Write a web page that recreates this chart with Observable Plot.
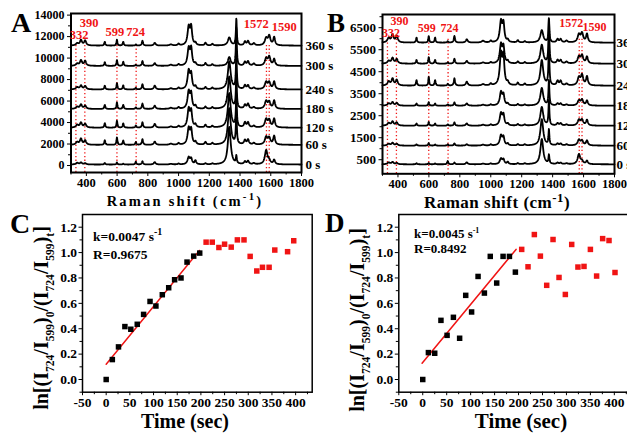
<!DOCTYPE html>
<html><head><meta charset="utf-8">
<script src="https://cdn.jsdelivr.net/npm/d3@7"></script>
<script src="https://cdn.jsdelivr.net/npm/@observablehq/plot@0.6"></script>
<style>
body{margin:0;background:#fff;}
#fig{position:relative;width:627px;height:434px;overflow:hidden;background:#fff;}
#fig svg{position:absolute;overflow:visible;}
</style></head><body><div id="fig"></div>
<script>
// ---------- DATA ----------
const timeLabels = ["0 s","60 s","120 s","180 s","240 s","300 s","360 s"];
const markedShifts = [332, 390, 599, 724, 1572, 1590];
// Raman peaks (centre, half width)
const peakCenters = [340,365,392,520,599,640,722,765,845,950,1000,1066,1082,1110,1175,1220,1330,1376,1432,1452,1490,1570,1590,1622];
const peakWidths  = [10,8,8,4,3.5,4,4,4.5,7,10,6,9,7,6,6,6,11,3.5,7,7,8,10,9,7];
// Panel A: baselines and peak heights per trace (0 s ... 360 s)
const baselinesA = [90, 1920, 3520, 5260, 7080, 9270, 11160];
const heightsA = [
  [150,180,120,150,200,80,260,300,220,60,80,650,500,350,100,80,3500,700,250,300,100,1300,300,400],
  [250,550,400,430,700,400,260,530,300,100,150,1500,1300,250,250,150,3400,3200,400,450,150,700,600,800],
  [250,450,350,420,650,400,200,500,350,100,150,1700,1400,250,250,150,3200,3100,450,450,150,750,650,800],
  [200,400,300,380,620,380,150,500,300,100,150,1600,1300,250,200,150,3000,3200,350,450,150,700,600,750],
  [200,350,300,350,600,380,150,480,350,100,150,1700,1300,250,200,150,2600,3400,350,350,150,650,600,700],
  [200,500,450,350,550,380,100,450,250,100,150,1600,1500,200,250,150,800,3600,350,400,200,650,800,600],
  [200,500,450,350,550,350,100,450,250,100,150,1700,1600,200,250,150,750,2500,350,400,200,650,850,750]
];
// Panel B
const baselinesB = [290, 1140, 2045, 2955, 3865, 4865, 5820];
const heightsB = [
  [80,100,60,50,60,40,150,80,90,30,40,250,200,100,50,40,1150,400,60,60,40,450,120,150],
  [80,120,80,60,120,50,60,100,60,40,50,450,350,80,60,50,1200,700,80,80,50,250,200,220],
  [120,180,140,100,170,100,60,150,100,40,50,550,450,80,70,50,850,1150,100,100,50,250,250,250],
  [100,150,120,100,160,100,60,150,100,40,50,600,450,80,70,50,800,1150,90,90,50,220,250,220],
  [180,300,250,250,400,250,80,330,180,60,80,1400,1200,120,120,80,1150,1900,200,200,80,350,450,400],
  [120,250,200,170,300,170,60,220,120,50,60,850,700,100,90,60,850,2000,150,150,80,300,350,300],
  [200,350,300,230,300,230,60,300,150,80,80,950,800,100,100,60,560,1100,150,150,80,350,400,380]
];
// Panel C kinetics
const timesC  = [0,13,26,39.5,52,65.6,79,92.6,105,118.5,132,144.5,158,170.7,184.8,197.5,211,224,238,250,264,277,291,304,318,330,344,356,383,396];
const valuesC = [0,0.157,0.257,0.417,0.396,0.435,0.513,0.615,0.579,0.668,0.723,0.786,0.80,0.925,0.972,0.996,1.082,1.082,1.04,1.066,1.043,1.10,1.10,0.97,0.855,0.884,0.884,1.02,1.007,1.093];
const fitTimesC = [0, 197];
const fitValuesC = [0.12, 1.017];
// Panel D kinetics
const timesD  = [0,11.8,25,38,50.8,64,77,89.7,102,115.5,128.7,141,154.4,167.7,181,193.4,206.6,219.8,233,245.6,258.8,272,284.5,297.7,311,324,336.7,350,363,375.6,388.9,401.4];
const valuesD = [0,0.212,0.207,0.466,0.348,0.49,0.325,0.663,0.532,0.812,0.681,0.97,0.76,0.97,0.97,0.846,1.025,0.888,1.142,0.972,0.742,1.103,0.804,0.67,1.064,0.886,0.891,1.025,0.815,1.11,1.095,0.843];
const fitTimesD = [-1.4, 194.8];
const fitValuesD = [0.128, 1.025];
const linearCount = 16; // points used in the fit (black)

// ---------- HELPERS ----------
const RED = "#f01414";
const FONT = "'Liberation Serif','Times New Roman',serif";
const fig = d3.select("#fig");
const shiftGrid = d3.range(300, 1800.01, 1.5);
function spectrum(h, base, label) {
  return shiftGrid.map(s => ({s, t: label,
    v: base + d3.sum(peakCenters, (c, i) => h[i] * peakWidths[i] ** 2 / ((s - c) ** 2 + peakWidths[i] ** 2))}));
}
function place(svg, left, top) {
  svg.style.left = left + "px"; svg.style.top = top + "px";
  fig.node().appendChild(svg); return svg;
}

function spectraPanel(o) {
  const data = o.heights.flatMap((h, k) => spectrum(h, o.bases[k], timeLabels[k]));
  return Plot.plot({
    width: o.width, height: o.height,
    marginLeft: o.ml, marginRight: o.mr, marginTop: o.mt, marginBottom: o.mb,
    style: {fontFamily: FONT, fontWeight: "bold", fontSize: "12.5px", background: "transparent", overflow: "visible", color: "black"},
    x: {domain: [300, 1800], label: null},
    y: {domain: o.yDomain, label: null},
    marks: [
      Plot.ruleX(markedShifts, {x: d => d, y1: o.yDomain[0], y2: o.ruleTop, stroke: RED, strokeWidth: 1.3, strokeDasharray: "1.3,2.4"}),
      Plot.line(data, {x: "s", y: "v", z: "t", stroke: "black", strokeWidth: 1.8}),
      Plot.text(timeLabels, {x: 1800, y: (d, i) => o.bases[i], text: d => d, textAnchor: "start", dx: o.labelDx, fontSize: 13}),
      Plot.axisX({ticks: d3.range(400, 1801, 200), tickFormat: d => String(d), tickSize: 4, tickPadding: 1.5, label: null, fontSize: 12.5}),
      Plot.axisX({ticks: d3.range(300, 1801, 200), tickFormat: () => "", tickSize: 2.5, label: null}),
      Plot.axisY({ticks: o.yTicks, tickFormat: d => String(d), tickSize: 3.5, tickPadding: 3, label: null, fontSize: o.yFont}),
      Plot.axisY({ticks: o.yMinor, tickFormat: () => "", tickSize: 2.5, label: null}),
      Plot.frame({strokeWidth: 2})
    ]
  });
}

function kineticPanel(o) {
  const pts = o.times.map((t, i) => ({t, v: o.values[i], fit: i < linearCount}));
  const fit = o.fitT.map((t, i) => ({t, v: o.fitV[i]}));
  return Plot.plot({
    width: o.width, height: o.height,
    marginLeft: o.ml, marginRight: o.mr, marginTop: o.mt, marginBottom: o.mb,
    style: {fontFamily: FONT, fontWeight: "bold", fontSize: "13px", background: "transparent", overflow: "visible", color: "black"},
    x: {domain: [-50, 435], label: null},
    y: {domain: [-0.1, 1.3], label: null},
    marks: [
      Plot.line(fit, {x: "t", y: "v", stroke: RED, strokeWidth: 1.5}),
      Plot.dot(pts, {x: "t", y: "v", symbol: "square", r: 3.1, fill: d => d.fit ? "black" : RED, stroke: null}),
      Plot.axisX({ticks: d3.range(-50, 401, 50), tickFormat: d => String(d), tickSize: 3.5, tickPadding: 2, label: null, fontSize: 13.5}),
      Plot.axisX({ticks: d3.range(-25, 426, 50), tickFormat: () => "", tickSize: 2.5, label: null}),
      Plot.axisY({ticks: d3.range(0, 1.21, 0.2), tickFormat: d3.format(".1f"), tickSize: 3.5, tickPadding: 2, label: null, fontSize: 13.5}),
      Plot.axisY({ticks: [-0.1, 0.1, 0.3, 0.5, 0.7, 0.9, 1.1], tickFormat: () => "", tickSize: 2.5, label: null}),
      Plot.frame({strokeWidth: 1.5})
    ]
  });
}

// ---------- PANELS ----------
const A = place(spectraPanel({heights: heightsA, bases: baselinesA, width: 340, height: 215, ml: 70.5, mr: 39, mt: 13, mb: 43,
  yDomain: [-650, 14150], yTicks: d3.range(0, 14001, 2000), yMinor: d3.range(1000, 14001, 2000), ruleTop: 11300, labelDx: 4, yFont: 12}), 0, 0);
const B = place(spectraPanel({heights: heightsB, bases: baselinesB, width: 330, height: 215, ml: 72, mr: 26, mt: 14, mb: 41.7,
  yDomain: [-140, 7100], yTicks: d3.range(500, 6501, 1000), yMinor: d3.range(1000, 7001, 1000), ruleTop: 6000, labelDx: 2, yFont: 13}), 310, 0);
const C = place(kineticPanel({times: timesC, values: valuesC, fitT: fitTimesC, fitV: fitValuesC,
  width: 320, height: 229, ml: 82, mr: 8.3, mt: 9, mb: 42.3}), 0, 205);
const D = place(kineticPanel({times: timesD, values: valuesD, fitT: fitTimesD, fitV: fitValuesD,
  width: 327, height: 229, ml: 88.3, mr: 6.4, mt: 9, mb: 42.3}), 310, 205);

// ---------- ANNOTATIONS ----------
function peakLabels(svg, offsets, baselines, size) {
  const x = svg.scale("x");
  const g = d3.select(svg).append("g").attr("fill", RED).attr("font-size", size).attr("text-anchor", "middle");
  markedShifts.forEach((p, i) => g.append("text").attr("x", x.apply(p) + offsets[i]).attr("y", baselines[i]).text(p));
}
peakLabels(A, [3.6, 4.7, -1.5, 0, -9.7, 15.5], [39, 27.3, 36, 36, 28.3, 30.7], 12.5);
peakLabels(B, [4, 3.6, -1.5, 2, -7.5, 13], [37, 24.5, 31.7, 31.7, 27.3, 30.7], 12);

const ov = fig.append("svg").attr("width", 627).attr("height", 434).style("left", "0px").style("top", "0px")
  .attr("font-family", FONT).attr("font-weight", "bold").attr("fill", "black");
[["A", 11, 32, 28], ["B", 327, 32, 27], ["C", 10, 233, 28], ["D", 325, 232, 27]]
  .forEach(([t, x, y, s]) => ov.append("text").attr("x", x).attr("y", y).attr("font-size", s).text(t));

function ramanTitle(x, y, size, spacing, supRaise) {
  const t = ov.append("text").attr("x", x).attr("y", y).attr("font-size", size).attr("text-anchor", "middle").attr("letter-spacing", spacing);
  t.append("tspan").text("Raman shift (cm");
  t.append("tspan").attr("font-size", size * 0.75).attr("dy", -size * supRaise).text("-1");
  t.append("tspan").attr("dy", size * supRaise).text(")");
}
ramanTitle(185, 206, 14.5, 2.2, 0.42);
ramanTitle(497, 208, 17, 0.5, 0.36);

ov.append("text").attr("x", 185).attr("y", 428).attr("font-size", 20).attr("text-anchor", "middle").text("Time (sec)");
ov.append("text").attr("x", 521).attr("y", 428).attr("font-size", 21).attr("text-anchor", "middle").text("Time (sec)");

function yLabel(x, y, size) {
  const t = ov.append("text").attr("transform", `translate(${x},${y}) rotate(-90)`).attr("font-size", size).attr("text-anchor", "middle");
  const sub = size * 0.58, d = size * 0.28;
  const parts = [["ln[(I"], ["724", 1], ["/I"], ["599", 1], [")"], ["0", 1], ["/(I"], ["724", 1], ["/I"], ["599", 1], [")"], ["t", 1], ["]"]];
  let down = false;
  parts.forEach(([s, isSub]) => {
    const ts = t.append("tspan").text(s);
    if (isSub && !down) { ts.attr("font-size", sub).attr("dy", d); down = true; }
    else if (isSub) { ts.attr("font-size", sub); }
    else if (down) { ts.attr("dy", -d); down = false; }
  });
}
yLabel(48, 318, 20);
yLabel(364, 320, 20);

function fitText(x, y1, y2, size, k, r, supSize) {
  const t = ov.append("text").attr("x", x).attr("y", y1).attr("font-size", size);
  t.append("tspan").text(`k=${k} s`);
  t.append("tspan").attr("font-size", supSize).attr("dy", -size * 0.42).text("-1");
  ov.append("text").attr("x", x).attr("y", y2).attr("font-size", size).text(`R=${r}`);
}
fitText(93, 241, 259, 13.5, "0.0047", "0.9675", 10);
fitText(414, 238, 253, 13, "0.0045", "0.8492", 8);
</script></body></html>
